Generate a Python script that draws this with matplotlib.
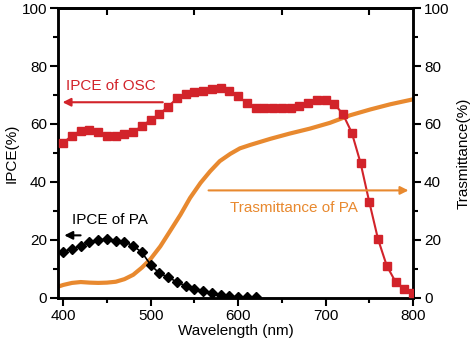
import matplotlib
matplotlib.use("Agg")
import matplotlib.pyplot as plt
from matplotlib.ticker import MultipleLocator, FixedLocator

plt.rcParams['font.family'] = ['Liberation Sans', 'DejaVu Sans']

# IPCE of OSC (red squares), 400-800 nm every 10 nm
osc_wl = list(range(400, 801, 10))
osc_ipce = [53.5, 56.0, 57.7, 57.8, 57.2, 56.0, 56.0, 56.5, 57.3, 59.3,
            61.4, 63.4, 66.0, 68.8, 70.2, 71.2, 71.4, 72.0, 72.3, 71.5,
            69.6, 67.2, 65.4, 65.4, 65.4, 65.5, 65.5, 66.3, 67.4, 68.4,
            68.4, 67.0, 63.3, 57.0, 46.6, 33.1, 20.3, 11.1, 5.6, 3.0, 1.6]

# IPCE of PA (black diamonds), 400-620 nm
pa_wl = list(range(400, 621, 10))
pa_ipce = [16.0, 17.0, 17.9, 19.3, 20.1, 20.2, 19.7, 19.4, 18.0, 15.7,
           11.4, 8.5, 7.2, 5.5, 4.2, 3.2, 2.5, 1.6, 0.9, 0.6, 0.3, 0.2, 0.2]

# Transmittance of PA (orange line)
tr_wl = [394, 400, 410, 420, 430, 440, 450, 460, 470, 480, 490, 500, 511,
         522, 534, 545, 557, 568, 579, 591, 602, 614, 637, 659, 682, 705,
         728, 751, 774, 800]
tr_val = [3.9, 4.5, 5.2, 5.5, 5.3, 5.2, 5.3, 5.6, 6.5, 8.0, 10.5, 13.5, 17.8,
          23.0, 28.7, 34.5, 39.7, 43.7, 47.2, 49.7, 51.6, 52.8, 54.9, 56.7,
          58.4, 60.4, 63.0, 65.0, 66.8, 68.5]

xticks = [400, 500, 600, 700, 800]
yticks = [0, 20, 40, 60, 80, 100]

red = '#d2232a'
orange = '#e8892f'
fs = 11

fig = plt.figure(figsize=(4.74, 3.48), dpi=100)
ax = fig.add_axes([0.1224, 0.1437, 0.8713 - 0.1224, 0.977 - 0.1437])
ax2 = ax.twinx()

ax2.plot(tr_wl, tr_val, color=orange, lw=3, solid_capstyle='butt', zorder=1)
ax.plot(osc_wl, osc_ipce, color=red, lw=1.5, marker='s', ms=5.2,
        mfc=red, mec=red, zorder=3)
ax.plot(pa_wl, pa_ipce, color='black', lw=1.2, marker='D', ms=5.2,
        mfc='black', mec='black', zorder=3)
ax.set_zorder(ax2.get_zorder() + 1)
ax.patch.set_visible(False)

ax.set_xlim(394, 800)
ax.set_ylim(0, 100)
ax2.set_ylim(0, 100)

ax.set_xticks(xticks)
ax.set_yticks(yticks)
ax2.set_yticks(yticks)
ax.xaxis.set_minor_locator(MultipleLocator(50))
ax.yaxis.set_minor_locator(MultipleLocator(10))
ax2.yaxis.set_minor_locator(MultipleLocator(10))

for a in (ax, ax2):
    for s in a.spines.values():
        s.set_linewidth(1.8)
    a.tick_params(which='major', length=6, width=1.5, labelsize=fs, direction='out', pad=2)
    a.tick_params(which='minor', length=3.5, width=1.5, direction='out')

ax.set_xlabel('Wavelength (nm)', fontsize=fs, labelpad=1)
ax.set_ylabel('IPCE(%)', fontsize=fs, labelpad=2)
ax2.set_ylabel('Trasmittance(%)', fontsize=fs, labelpad=5)

# top ticks (inward at minor positions)
sec = ax.secondary_xaxis('top')
sec.set_xticks([450, 550, 650, 750])
sec.tick_params(direction='in', length=5, width=1.5, labeltop=False)
sec.spines['top'].set_linewidth(1.8)
sec.xaxis.set_minor_locator(FixedLocator([]))

# annotations
ax.annotate('', xy=(396, 67.5), xytext=(517, 67.5),
            arrowprops=dict(arrowstyle='-|>', color=red, lw=1.5, mutation_scale=12))
ax.text(403, 73, 'IPCE of OSC', color=red, fontsize=fs, va='center', ha='left')

ax.annotate('', xy=(398, 21.6), xytext=(423, 21.6),
            arrowprops=dict(arrowstyle='-|>', color='black', lw=1.5, mutation_scale=12))
ax.text(410, 27, 'IPCE of PA', color='black', fontsize=fs, va='center', ha='left')

ax.annotate('', xy=(798, 37.1), xytext=(563, 37.1),
            arrowprops=dict(arrowstyle='-|>', color=orange, lw=1.5, mutation_scale=12))
ax.text(591, 31, 'Trasmittance of PA', color=orange, fontsize=fs, va='center', ha='left')

fig.savefig('out.png', dpi=100)
